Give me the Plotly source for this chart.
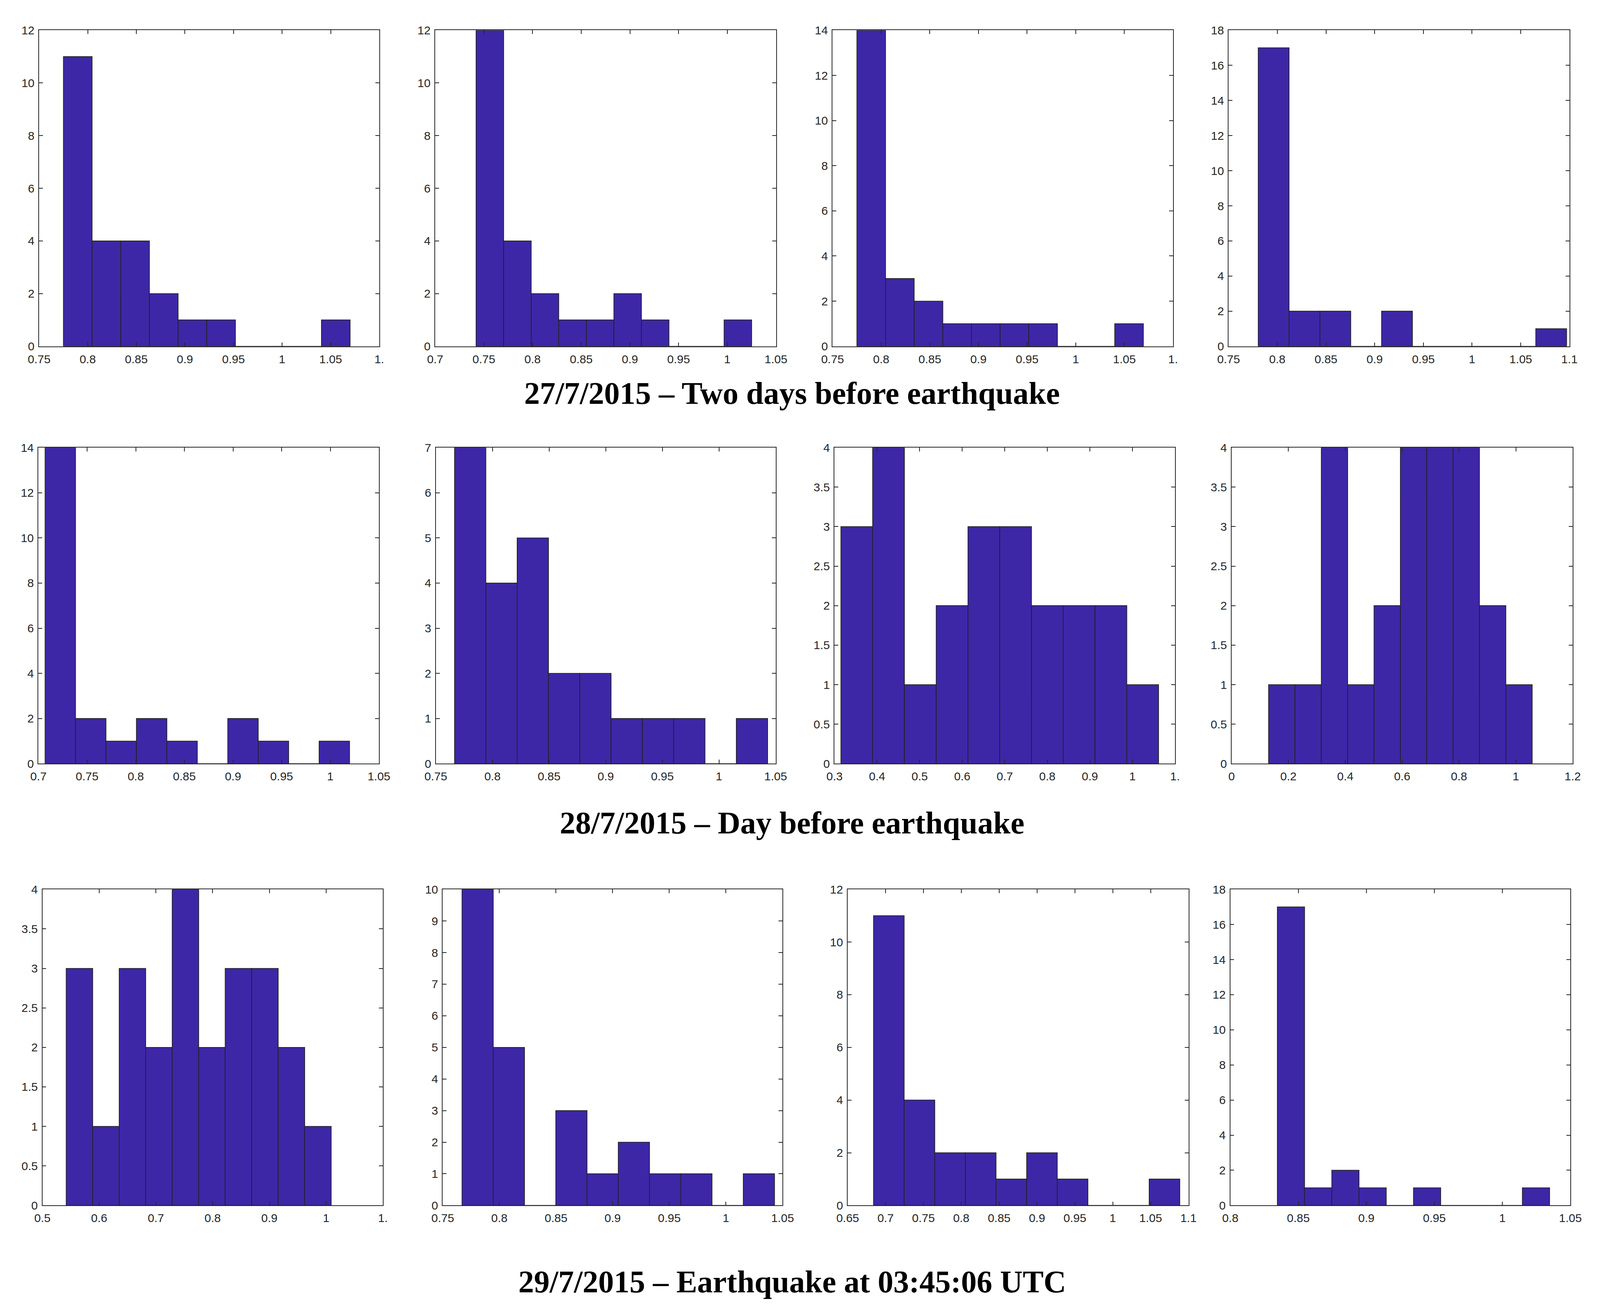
import plotly.graph_objects as go

# histogram counts (10 bins each)
counts_27 = [[11, 4, 4, 2, 1, 1, 0, 0, 0, 1],
             [12, 4, 2, 1, 1, 2, 1, 0, 0, 1],
             [14, 3, 2, 1, 1, 1, 1, 0, 0, 1],
             [17, 2, 2, 0, 2, 0, 0, 0, 0, 1]]
counts_28 = [[14, 2, 1, 2, 1, 0, 2, 1, 0, 1],
             [7, 4, 5, 2, 2, 1, 1, 1, 0, 1],
             [3, 4, 1, 2, 3, 3, 2, 2, 2, 1],
             [1, 1, 4, 1, 2, 4, 4, 4, 2, 1]]
counts_29 = [[3, 1, 3, 2, 4, 2, 3, 3, 2, 1],
             [10, 5, 0, 3, 1, 2, 1, 1, 0, 1],
             [11, 4, 2, 2, 1, 2, 1, 0, 0, 1],
             [17, 1, 2, 1, 0, 1, 0, 0, 0, 1]]

# data min / max of each panel (first and last bin edge)
range_27 = [(0.775, 1.070), (0.742, 1.025), (0.775, 1.0695), (0.7804, 1.0971)]
range_28 = [(0.7068, 1.0198), (0.7665, 1.0429), (0.3149, 1.0614), (0.1301, 1.0575)]
range_29 = [(0.5419, 1.0089), (0.767, 1.0429), (0.6841, 1.0885), (0.8346, 1.0347)]

# x axis limits and tick labels per panel
xlim = [(0.75, 1.1), (0.7, 1.05), (0.75, 1.1), (0.75, 1.1),
        (0.7, 1.05), (0.75, 1.05), (0.3, 1.1), (0.0, 1.2),
        (0.5, 1.1), (0.75, 1.05), (0.65, 1.1), (0.8, 1.05)]
xtick_labels = [
    ["0.75", "0.8", "0.85", "0.9", "0.95", "1", "1.05", "1."],
    ["0.7", "0.75", "0.8", "0.85", "0.9", "0.95", "1", "1.05"],
    ["0.75", "0.8", "0.85", "0.9", "0.95", "1", "1.05", "1."],
    ["0.75", "0.8", "0.85", "0.9", "0.95", "1", "1.05", "1.1"],
    ["0.7", "0.75", "0.8", "0.85", "0.9", "0.95", "1", "1.05"],
    ["0.75", "0.8", "0.85", "0.9", "0.95", "1", "1.05"],
    ["0.3", "0.4", "0.5", "0.6", "0.7", "0.8", "0.9", "1", "1."],
    ["0", "0.2", "0.4", "0.6", "0.8", "1", "1.2"],
    ["0.5", "0.6", "0.7", "0.8", "0.9", "1", "1."],
    ["0.75", "0.8", "0.85", "0.9", "0.95", "1", "1.05"],
    ["0.65", "0.7", "0.75", "0.8", "0.85", "0.9", "0.95", "1", "1.05", "1.1"],
    ["0.8", "0.85", "0.9", "0.95", "1", "1.05"],
]
xtick_step = [0.05, 0.05, 0.05, 0.05, 0.05, 0.05, 0.1, 0.2, 0.1, 0.05, 0.05, 0.05]
ymax = [12, 12, 14, 18, 14, 7, 4, 4, 4, 10, 12, 18]
ystep = [2, 2, 2, 2, 2, 1, 0.5, 0.5, 0.5, 1, 2, 2]

titles = ["27/7/2015 – Two days before earthquake",
          "28/7/2015 – Day before earthquake",
          "29/7/2015 – Earthquake at 03:45:06 UTC"]

W, H = 4795, 3344
# plot boxes in reference pixels (left, right) per panel, (top, bottom) per row
box_x = [[75, 1109], [1279, 2315], [2487, 3522], [3691, 4727],
         [73, 1108], [1281, 2314], [2493, 3528], [3700, 4737],
         [85, 1120], [1302, 2335], [2533, 3569], [3696, 4730]]
box_y = [[54, 871], [1133, 1950], [2275, 3092]]
title_y = [993, 2103, 3289]

bar_color = "#3d27a7"
ink = "#262626"
tick_font = dict(family="Liberation Sans, Arial", size=30, color=ink)

all_counts = counts_27 + counts_28 + counts_29
all_ranges = range_27 + range_28 + range_29

fig = go.Figure()
layout = dict(autosize=True, margin=dict(l=0, r=0, t=0, b=0),
              paper_bgcolor="white", plot_bgcolor="white", showlegend=False)

for i in range(12):
    lo, hi = all_ranges[i]
    cnt = all_counts[i]
    n = len(cnt)
    bw = (hi - lo) / n
    centers = [lo + bw * (k + 0.5) for k in range(n)]
    sfx = "" if i == 0 else str(i + 1)
    fig.add_trace(go.Bar(
        x=centers, y=cnt, width=bw,
        marker=dict(color=bar_color, line=dict(color="#222222", width=1.8)),
        xaxis="x" + sfx, yaxis="y" + sfx,
    ))

    row = i // 4
    x0, x1 = box_x[i]
    y0, y1 = box_y[row]
    tvals = [xlim[i][0] + xtick_step[i] * k for k in range(len(xtick_labels[i]))]
    layout["xaxis" + sfx] = dict(
        domain=[x0 / W, x1 / W], anchor="y" + sfx, range=list(xlim[i]),
        tickmode="array", tickvals=tvals, ticktext=xtick_labels[i],
        ticks="inside", ticklen=10, tickwidth=1.8, tickcolor=ink,
        showline=True, linecolor=ink, linewidth=1.8, mirror="ticks",
        showgrid=False, zeroline=False, tickfont=tick_font,
        ticklabelstandoff=5,
    )
    layout["yaxis" + sfx] = dict(
        domain=[1 - y1 / H, 1 - y0 / H], anchor="x" + sfx, range=[0, ymax[i]],
        dtick=ystep[i], tick0=0,
        ticks="inside", ticklen=10, tickwidth=1.8, tickcolor=ink,
        showline=True, linecolor=ink, linewidth=1.8, mirror="ticks",
        showgrid=False, zeroline=False, tickfont=tick_font,
        ticklabelstandoff=4,
    )

layout["annotations"] = [
    dict(text="<b>" + t + "</b>", x=2364 / W, y=1 - ty / H, xref="paper", yref="paper",
         xanchor="center", yanchor="middle", showarrow=False,
         font=dict(family="Liberation Serif, Times New Roman", size=80, color="black"))
    for t, ty in zip(titles, title_y)
]

fig.update_layout(**layout)
fig.write_html("out.html", default_width="100vw", default_height="100vh")
